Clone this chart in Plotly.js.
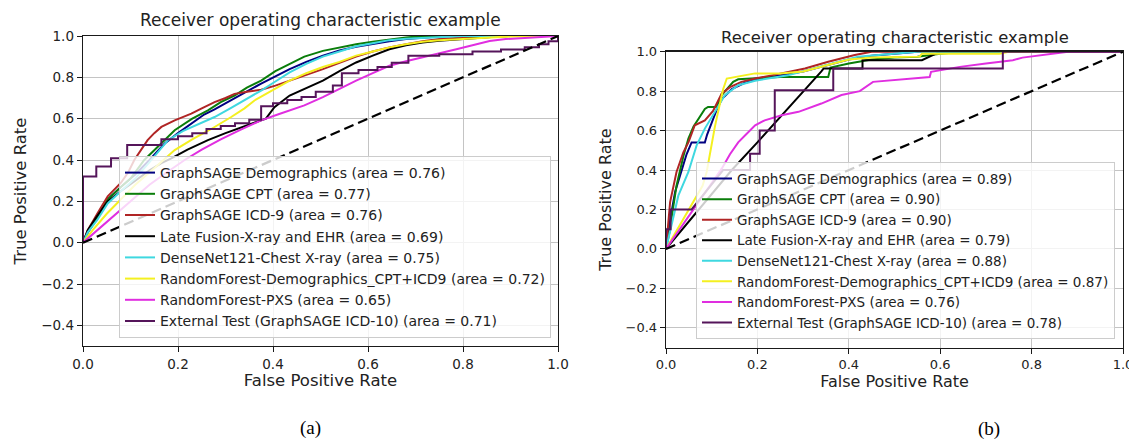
<!DOCTYPE html>
<html>
<head>
<meta charset="utf-8">
<script src="https://cdn.plot.ly/plotly-3.0.1.min.js"></script>
<style>html,body{margin:0;padding:0;background:#fff}#chart{width:1129px;height:441px}</style>
</head>
<body>
<div id="chart"></div>
<script>
// ---------- data ----------
const modelNames = [
  "GraphSAGE Demographics",
  "GraphSAGE CPT",
  "GraphSAGE ICD-9",
  "Late Fusion-X-ray and EHR",
  "DenseNet121-Chest X-ray",
  "RandomForest-Demographics_CPT+ICD9",
  "RandomForest-PXS",
  "External Test (GraphSAGE ICD-10)"
];
const aucA = [0.76, 0.77, 0.76, 0.69, 0.75, 0.72, 0.65, 0.71];
const aucB = [0.89, 0.90, 0.90, 0.79, 0.88, 0.87, 0.76, 0.78];
const panelTitle = "Receiver operating characteristic example";
const panelLabels = ["(a)", "(b)"];
const xTitle = "False Positive Rate";
const yTitle = "True Positive Rate";
const chanceFpr = [0, 1];
const chanceTpr = [0, 1];

// ----- panel (a) curves -----
const aNavyFpr = [0,0.01,0.03,0.052,0.08,0.11,0.14,0.172,0.2,0.228,0.255,0.277,0.3,0.33,0.375,0.435,0.47,0.505,0.54,0.575,0.61,0.645,0.68,0.715,0.75,0.78,1.0];
const aNavyTpr = [0,0.05,0.12,0.21,0.27,0.33,0.40,0.48,0.53,0.576,0.62,0.645,0.675,0.715,0.77,0.84,0.875,0.905,0.93,0.948,0.962,0.975,0.985,0.992,0.997,1.0,1.0];
const aGreenFpr = [0,0.01,0.03,0.052,0.08,0.1,0.129,0.16,0.193,0.23,0.263,0.29,0.319,0.345,0.375,0.405,0.435,0.466,0.505,0.54,0.575,0.61,0.645,0.68,0.715,1.0];
const aGreenTpr = [0,0.05,0.12,0.21,0.27,0.31,0.40,0.47,0.544,0.60,0.64,0.68,0.712,0.75,0.784,0.83,0.864,0.90,0.928,0.945,0.96,0.972,0.984,0.993,1.0,1.0];
const aRedFpr = [0,0.01,0.03,0.052,0.08,0.095,0.108,0.122,0.136,0.15,0.165,0.193,0.228,0.25,0.277,0.30,0.319,0.345,0.375,0.405,0.435,0.47,0.505,0.54,0.575,0.61,0.645,0.68,0.715,0.75,0.786,0.82,0.85,1.0];
const aRedTpr = [0,0.06,0.14,0.224,0.29,0.34,0.40,0.45,0.496,0.53,0.56,0.592,0.624,0.65,0.68,0.70,0.72,0.73,0.74,0.76,0.784,0.81,0.84,0.87,0.90,0.925,0.945,0.96,0.975,0.985,0.99,0.996,1.0,1.0];
const aBlackFpr = [0,0.01,0.03,0.052,0.08,0.11,0.14,0.165,0.186,0.22,0.263,0.30,0.34,0.375,0.385,0.395,0.403,0.435,0.47,0.505,0.54,0.575,0.61,0.645,0.68,0.715,0.75,0.786,0.82,0.86,0.9,1.0];
const aBlackTpr = [0,0.06,0.13,0.2,0.25,0.30,0.35,0.385,0.408,0.45,0.496,0.53,0.565,0.592,0.60,0.63,0.656,0.712,0.75,0.784,0.83,0.872,0.905,0.936,0.955,0.968,0.977,0.984,0.99,0.995,1.0,1.0];
const aCyanFpr = [0,0.01,0.03,0.052,0.08,0.11,0.14,0.179,0.21,0.245,0.277,0.31,0.345,0.375,0.405,0.435,0.47,0.505,0.54,0.575,0.61,0.645,0.68,0.715,0.75,0.8,1.0];
const aCyanTpr = [0,0.05,0.11,0.19,0.25,0.31,0.39,0.496,0.54,0.575,0.608,0.65,0.695,0.736,0.78,0.824,0.865,0.90,0.925,0.95,0.965,0.98,0.987,0.99,0.995,1.0,1.0];
const aYellowFpr = [0,0.02,0.05,0.08,0.11,0.15,0.193,0.23,0.27,0.312,0.34,0.361,0.4,0.435,0.47,0.505,0.54,0.575,0.61,0.645,0.68,0.715,0.75,0.786,0.82,0.86,0.9,0.95,1.0];
const aYellowTpr = [0,0.06,0.14,0.21,0.28,0.36,0.448,0.50,0.55,0.608,0.65,0.688,0.74,0.784,0.82,0.85,0.875,0.905,0.925,0.945,0.96,0.972,0.98,0.985,0.99,0.995,0.998,1.0,1.0];
const aMagentaFpr = [0,0.02,0.05,0.08,0.11,0.14,0.17,0.214,0.25,0.29,0.33,0.375,0.41,0.435,0.466,0.505,0.54,0.575,0.61,0.645,0.68,0.715,0.75,0.786,0.82,0.856,0.89,0.92,0.96,1.0];
const aMagentaTpr = [0,0.04,0.10,0.16,0.22,0.28,0.33,0.40,0.45,0.50,0.545,0.592,0.62,0.64,0.664,0.704,0.745,0.784,0.82,0.856,0.878,0.896,0.915,0.936,0.955,0.976,0.985,0.99,0.995,1.0];
const aPurpleFpr = [0,0,0.028,0.059,0.093,0.165,0.20,0.23,0.26,0.29,0.32,0.35,0.375,0.40,0.43,0.46,0.49,0.526,0.545,0.58,0.62,0.65,0.685,0.75,0.82,0.88,0.93,0.96,0.98,1.0];
const aPurpleTpr = [0,0.32,0.368,0.408,0.472,0.50,0.515,0.53,0.55,0.565,0.578,0.595,0.66,0.675,0.69,0.705,0.73,0.76,0.82,0.835,0.85,0.87,0.905,0.912,0.925,0.935,0.945,0.96,0.975,1.0];

// ----- panel (b) curves -----
const bNavyFpr = [0,0.005,0.01,0.02,0.035,0.045,0.056,0.085,0.09,0.10,0.11,0.122,0.144,0.17,0.2,0.25,0.3,0.35,0.4,0.45,0.5,0.55,1.0];
const bNavyTpr = [0,0.08,0.16,0.29,0.40,0.48,0.54,0.54,0.58,0.644,0.70,0.76,0.81,0.84,0.86,0.88,0.90,0.93,0.96,0.98,0.99,1.0,1.0];
const bGreenFpr = [0,0.005,0.009,0.015,0.023,0.038,0.049,0.06,0.071,0.085,0.092,0.111,0.122,0.129,0.147,0.158,0.2,0.25,0.355,0.36,0.4,0.45,0.5,0.55,0.6,0.65,1.0];
const bGreenTpr = [0,0.05,0.10,0.2,0.32,0.47,0.56,0.62,0.66,0.71,0.72,0.72,0.78,0.80,0.847,0.86,0.865,0.872,0.872,0.92,0.94,0.96,0.97,0.975,0.99,1.0,1.0];
const bRedFpr = [0,0.004,0.009,0.023,0.038,0.049,0.063,0.085,0.103,0.122,0.14,0.165,0.195,0.231,0.267,0.304,0.355,0.413,0.45,1.0];
const bRedTpr = [0,0.1,0.237,0.39,0.49,0.54,0.627,0.652,0.70,0.788,0.82,0.847,0.864,0.88,0.898,0.915,0.949,0.983,1.0,1.0];
const bBlackFpr = [0,0.144,0.2,0.267,0.34,0.345,0.43,0.43,0.56,0.6,1.0];
const bBlackTpr = [0,0.40,0.54,0.71,0.90,0.915,0.915,0.957,0.957,1.0,1.0];
const bCyanFpr = [0,0.005,0.015,0.027,0.049,0.067,0.085,0.107,0.129,0.158,0.195,0.267,0.326,0.38,0.42,0.5,0.55,1.0];
const bCyanTpr = [0,0.05,0.15,0.27,0.39,0.525,0.61,0.695,0.78,0.83,0.853,0.88,0.915,0.95,0.975,0.99,1.0,1.0];
const bYellowFpr = [0,0.02,0.05,0.08,0.089,0.095,0.10,0.107,0.114,0.12,0.125,0.133,0.158,0.195,0.25,0.3,0.35,0.4,0.45,0.555,0.56,0.73,0.75,1.0];
const bYellowTpr = [0,0.08,0.2,0.32,0.39,0.47,0.54,0.62,0.695,0.76,0.81,0.864,0.875,0.89,0.89,0.90,0.93,0.96,0.97,0.975,0.99,0.99,1.0,1.0];
const bMagentaFpr = [0,0.03,0.06,0.09,0.122,0.14,0.158,0.175,0.195,0.216,0.253,0.29,0.34,0.384,0.424,0.453,0.497,0.577,0.58,0.643,0.7,0.759,0.78,0.83,0.88,1.0];
const bMagentaTpr = [0,0.1,0.2,0.3,0.407,0.48,0.54,0.58,0.627,0.652,0.678,0.695,0.737,0.78,0.80,0.847,0.855,0.872,0.898,0.923,0.94,0.957,0.97,0.985,1.0,1.0];
const bPurpleFpr = [0,0,0.01,0.01,0.056,0.125,0.184,0.184,0.205,0.205,0.238,0.238,0.366,0.366,0.737,0.737,1.0];
const bPurpleTpr = [0,0.1,0.1,0.2,0.2,0.4,0.4,0.483,0.483,0.6,0.6,0.805,0.805,0.915,0.915,1.0,1.0];

// ---------- styles ----------
const lineColors = ["#000080", "#0a7d0a", "#b02525", "#000000", "#3fd8e0", "#f4f020", "#e02ee0", "#55155a"];
const FONT = "DejaVu Sans, Verdana, sans-serif";
const TXT = "#222222";
const W = 1129, H = 441;

const panelA = [
  [aNavyFpr, aNavyTpr], [aGreenFpr, aGreenTpr], [aRedFpr, aRedTpr], [aBlackFpr, aBlackTpr],
  [aCyanFpr, aCyanTpr], [aYellowFpr, aYellowTpr], [aMagentaFpr, aMagentaTpr], [aPurpleFpr, aPurpleTpr]
];
const panelB = [
  [bNavyFpr, bNavyTpr], [bGreenFpr, bGreenTpr], [bRedFpr, bRedTpr], [bBlackFpr, bBlackTpr],
  [bCyanFpr, bCyanTpr], [bYellowFpr, bYellowTpr], [bMagentaFpr, bMagentaTpr], [bPurpleFpr, bPurpleTpr]
];

const traces = [];
function addPanel(curves, aucs, xa, ya, legendId, hvLast) {
  curves.forEach((c, i) => {
    traces.push({
      type: "scatter", mode: "lines",
      x: c[0], y: c[1], xaxis: xa, yaxis: ya,
      name: modelNames[i] + " (area = " + aucs[i].toFixed(2) + ")",
      legend: legendId,
      line: {color: lineColors[i], width: 2, shape: (hvLast && i === 7) ? "hv" : "linear"},
      hoverinfo: "skip"
    });
  });
  traces.push({
    type: "scatter", mode: "lines", x: chanceFpr, y: chanceTpr, xaxis: xa, yaxis: ya,
    showlegend: false, line: {color: "#000000", width: 2.2, dash: "10px,5px"}, hoverinfo: "skip"
  });
}
addPanel(panelA, aucA, "x", "y", "legend", true);
addPanel(panelB, aucB, "x2", "y2", "legend2", false);

function xAxis(domain, anchor, fs, tfs, standoff) {
  return {
    domain: domain, anchor: anchor, range: [0, 1], dtick: 0.2, tick0: 0, tickformat: ".1f",
    showgrid: true, gridcolor: "#c4c4c4", gridwidth: 1, zeroline: false,
    showline: true, mirror: true, linecolor: "#1a1a1a", linewidth: 1.3,
    ticks: "outside", ticklen: 5, tickcolor: "#1a1a1a", ticklabeloverflow: "allow",
    tickfont: {family: FONT, size: fs, color: TXT},
    title: {text: xTitle, font: {family: FONT, size: tfs, color: TXT}, standoff: standoff},
    automargin: false, fixedrange: true
  };
}
function yAxis(domain, anchor, fs, tfs, standoff) {
  return {
    domain: domain, anchor: anchor, range: [-0.5, 1.0], dtick: 0.2, tick0: 0, tickformat: ".1f",
    showgrid: true, gridcolor: "#c4c4c4", gridwidth: 1, zeroline: false,
    showline: true, mirror: true, linecolor: "#1a1a1a", linewidth: 1.3,
    ticks: "outside", ticklen: 5, tickcolor: "#1a1a1a", ticklabeloverflow: "allow",
    tickfont: {family: FONT, size: fs, color: TXT},
    title: {text: yTitle, font: {family: FONT, size: tfs, color: TXT}, standoff: standoff},
    automargin: false, fixedrange: true
  };
}

const layout = {
  width: W, height: H,
  margin: {l: 0, r: 0, t: 0, b: 0},
  paper_bgcolor: "#ffffff", plot_bgcolor: "#ffffff",
  font: {family: FONT, color: TXT},
  showlegend: true,
  xaxis: xAxis([83 / W, 558 / W], "y", 13.5, 16.5, 4),
  yaxis: yAxis([1 - 346 / H, 1 - 36 / H], "x", 13.5, 16.5, 10),
  xaxis2: xAxis([666 / W, 1123 / W], "y2", 13, 16, 4),
  yaxis2: yAxis([1 - 347.5 / H, 1 - 51.7 / H], "x2", 13, 16, 10),
  legend: {
    x: 551 / W, xanchor: "right", y: 1 - 338 / H, yanchor: "bottom",
    bgcolor: "rgba(255,255,255,0.8)", bordercolor: "#cccccc", borderwidth: 1,
    font: {family: FONT, size: 14, color: TXT}, tracegroupgap: 0
  },
  legend2: {
    x: 1115 / W, xanchor: "right", y: 1 - 339.3 / H, yanchor: "bottom",
    bgcolor: "rgba(255,255,255,0.8)", bordercolor: "#cccccc", borderwidth: 1,
    font: {family: FONT, size: 13.5, color: TXT}, tracegroupgap: 0
  },
  annotations: [
    {text: panelTitle, xref: "paper", yref: "paper", x: 320.5 / W, y: 1 - 20 / H, xanchor: "center", yanchor: "middle",
     showarrow: false, font: {family: FONT, size: 17, color: TXT}},
    {text: panelTitle, xref: "paper", yref: "paper", x: 894.5 / W, y: 1 - 38 / H, xanchor: "center", yanchor: "middle",
     showarrow: false, font: {family: FONT, size: 16.4, color: TXT}},
    {text: panelLabels[0], xref: "paper", yref: "paper", x: 310 / W, y: 1 - 428 / H, xanchor: "center", yanchor: "middle",
     showarrow: false, font: {family: "Liberation Serif, Times New Roman, serif", size: 19, color: "#000"}},
    {text: panelLabels[1], xref: "paper", yref: "paper", x: 989 / W, y: 1 - 429 / H, xanchor: "center", yanchor: "middle",
     showarrow: false, font: {family: "Liberation Serif, Times New Roman, serif", size: 19, color: "#000"}}
  ]
};

Plotly.newPlot("chart", traces, layout, {staticPlot: true, displayModeBar: false});
</script>
</body>
</html>
